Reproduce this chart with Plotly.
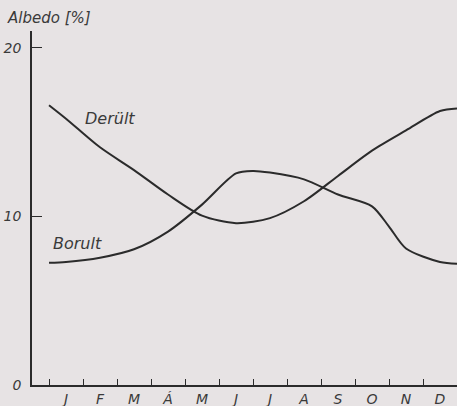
import plotly.graph_objects as go

months = ["J", "F", "M", "Á", "M", "J", "J", "A", "S", "O", "N", "D"]
month_pos = [1, 2, 3, 4, 5, 6, 7, 8, 9, 10, 11, 12]

derult_x = [0.5, 1, 2, 3, 4, 5, 6, 7, 8, 9, 10, 11, 12, 12.5]
derult_y = [16.6, 15.8, 14.1, 12.75, 11.3, 10.05, 9.6, 9.9, 10.9, 12.4, 13.9, 15.1, 16.25, 16.4]

borult_x = [0.5, 1, 2, 3, 4, 5, 6, 6.5, 7, 8, 9, 10, 10.5, 11, 12, 12.5]
borult_y = [7.25, 7.3, 7.55, 8.05, 9.1, 10.7, 12.55, 12.7, 12.6, 12.2, 11.3, 10.6, 9.4, 8.1, 7.3, 7.2]

y_ticks = [0, 10, 20]

ink = "#2b2b2b"
bg = "#e7e3e4"
txt = "#3a3a3a"
font = dict(family="DejaVu Sans", size=14, color=txt, style="italic")

fig = go.Figure()
fig.add_trace(go.Scatter(x=derult_x, y=derult_y, mode="lines",
                         line=dict(color=ink, width=2, shape="spline", smoothing=0.8),
                         name="Derült", showlegend=False))
fig.add_trace(go.Scatter(x=borult_x, y=borult_y, mode="lines",
                         line=dict(color=ink, width=2, shape="spline", smoothing=0.8),
                         name="Borult", showlegend=False))

fig.add_annotation(x=1.5, y=15.8, text="Derült", showarrow=False, xanchor="left",
                   font=dict(family="DejaVu Sans", size=16, color=txt, style="italic"))
fig.add_annotation(x=0.55, y=8.4, text="Borult", showarrow=False, xanchor="left",
                   font=dict(family="DejaVu Sans", size=16, color=txt, style="italic"))
fig.add_annotation(xref="paper", yref="paper", x=-0.064, y=1.037, text="Albedo [%]",
                   showarrow=False, xanchor="left", yanchor="middle",
                   font=dict(family="DejaVu Sans", size=15, color=txt, style="italic"))

fig.update_layout(
    width=457, height=406,
    margin=dict(l=32, r=0, t=31, b=21),
    paper_bgcolor=bg, plot_bgcolor=bg,
    font=font,
)
fig.update_xaxes(range=[0, 12.5], tickvals=month_pos, ticktext=months,
                 ticks="", showgrid=False, zeroline=False,
                 showline=True, linecolor=ink, linewidth=1.5,
                 minor=dict(tick0=0.5, dtick=1, ticks="inside", ticklen=6,
                            tickcolor=ink, tickwidth=1, showgrid=False),
                 ticklabelstandoff=0, fixedrange=True)
fig.update_yaxes(range=[0, 21], tickvals=y_ticks, ticks="inside", ticklen=10,
                 tickcolor=ink, tickwidth=1, showgrid=False, zeroline=False,
                 showline=True, linecolor=ink, linewidth=1.5,
                 ticklabelstandoff=6, fixedrange=True)

fig.write_html("out.html")
